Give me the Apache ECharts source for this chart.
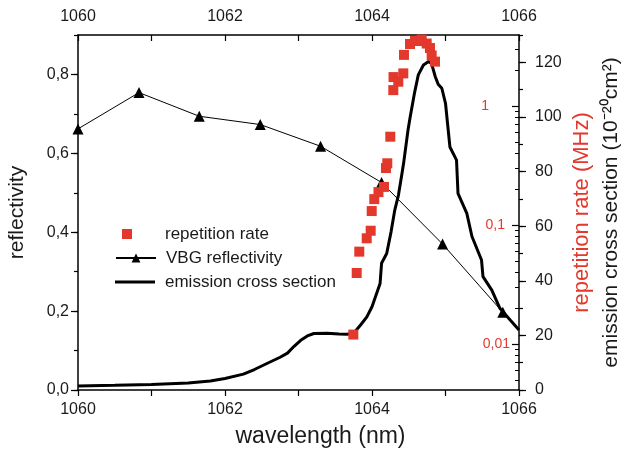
<!DOCTYPE html>
<html><head><meta charset="utf-8">
<script src="https://cdn.jsdelivr.net/npm/echarts@6/dist/echarts.min.js"></script>
<style>html,body{margin:0;padding:0;background:#fff}#c{width:626px;height:454px}</style>
</head><body><div id="c"></div>
<script>
// ---- data ----
const vbgWavelength = [1060, 1060.83, 1061.65, 1062.48, 1063.3, 1064.13, 1064.96, 1065.78];
const vbgReflectivity = [0.662, 0.754, 0.694, 0.673, 0.618, 0.526, 0.370, 0.197];

const repWavelength = [1063.746, 1063.792, 1063.827, 1063.928, 1063.982, 1063.996, 1064.031, 1064.088, 1064.163, 1064.19, 1064.208, 1064.249, 1064.29, 1064.293, 1064.358, 1064.426, 1064.435, 1064.517, 1064.585, 1064.626, 1064.676, 1064.744, 1064.789, 1064.812, 1064.857];
const repRate = [0.012, 0.0395, 0.0597, 0.0773, 0.0895, 0.131, 0.165, 0.189, 0.209, 0.301, 0.330, 0.552, 1.36, 1.75, 1.60, 1.88, 2.69, 3.32, 3.52, 3.52, 3.62, 3.35, 3.07, 2.66, 2.36];

const csWavelength = [1060.0, 1060.5, 1061.0, 1061.5, 1061.8, 1062.0, 1062.25, 1062.4, 1062.57, 1062.75, 1062.85, 1062.94, 1063.03, 1063.12, 1063.21, 1063.39, 1063.55, 1063.66, 1063.75, 1063.85, 1063.93, 1064.0, 1064.11, 1064.13, 1064.2, 1064.26, 1064.31, 1064.36, 1064.4, 1064.43, 1064.49, 1064.52, 1064.58, 1064.63, 1064.7, 1064.77, 1064.81, 1064.86, 1064.9, 1064.95, 1065.0, 1065.06, 1065.15, 1065.17, 1065.29, 1065.36, 1065.49, 1065.51, 1065.63, 1065.74, 1065.88, 1066.0];
const csValue = [1.5, 1.7, 2.0, 2.6, 3.3, 4.2, 5.8, 7.5, 9.7, 12.0, 13.5, 16.0, 18.2, 19.8, 20.7, 20.8, 20.5, 20.4, 20.8, 24.0, 26.8, 30.5, 39.0, 46.4, 50.0, 58.0, 65.9, 71.4, 78.0, 83.0, 95.2, 100.1, 109.0, 115.4, 119.0, 120.3, 119.6, 114.8, 112.0, 110.5, 105.0, 89.0, 84.2, 72.0, 64.7, 56.2, 47.6, 41.5, 36.6, 29.9, 25.6, 22.0];

const logTickValues = [0.01, 0.1, 1];
const logTickLabels = ['0,01', '0,1', '1'];
const logMinorTicks = [0.005, 0.006, 0.007, 0.008, 0.009, 0.02, 0.03, 0.04, 0.05, 0.06, 0.07, 0.08, 0.09, 0.2, 0.3, 0.4, 0.5, 0.6, 0.7, 0.8, 0.9, 2, 3];

// ---- chart ----
const FONT = '"Liberation Sans", Arial, sans-serif';
const TXT = '#1a1a1a';
const RED = '#e3382c';
const TICK_FS = 16;
const LEG_FS = 17;
const axisLineStyle = {color: '#000', width: 1.5};

const chart = echarts.init(document.getElementById('c'), null, {renderer: 'canvas'});

function evenLabel(v) { return Math.round(v) % 2 === 0 ? String(Math.round(v)) : ''; }
function reflLabel(v) {
  const k = v * 5;
  return Math.abs(k - Math.round(k)) < 1e-6 ? v.toFixed(1).replace('.', ',') : '';
}
function logLabel(v) {
  for (let i = 0; i < logTickValues.length; i++) {
    if (Math.abs(Math.log10(v) - Math.log10(logTickValues[i])) < 1e-6) {
      return '{l' + i + '|' + logTickLabels[i] + '}';
    }
  }
  return '';
}
const legText = {fontSize: LEG_FS, color: TXT, fontFamily: FONT, lineHeight: 20};

const option = {
  animation: false,
  backgroundColor: '#fff',
  textStyle: {fontFamily: FONT},
  grid: {left: 78, right: 107, top: 35, bottom: 64, containLabel: false, outerBoundsMode: 'none'},
  legend: [
    {
      left: 122, top: 224, padding: 0, itemWidth: 10, itemHeight: 10, selectedMode: false,
      textStyle: Object.assign({padding: [0, 0, 0, 28]}, legText),
      data: [{name: 'repetition rate', icon: 'rect'}]
    },
    {
      left: 115, top: 248, padding: 0, itemWidth: 40, itemHeight: 11, selectedMode: false,
      textStyle: Object.assign({padding: [0, 0, 0, 5]}, legText),
      data: [{name: 'VBG reflectivity'}]
    },
    {
      left: 115, top: 272, padding: 0, itemWidth: 40, itemHeight: 3, selectedMode: false,
      textStyle: Object.assign({padding: [0, 0, 0, 5]}, legText),
      data: [{name: 'emission cross section', icon: 'rect'}]
    }
  ],
  xAxis: [
    {
      type: 'value', position: 'bottom', min: 1060, max: 1066, interval: 1,
      axisLine: {show: true, onZero: false, lineStyle: axisLineStyle},
      axisTick: {show: true, inside: false, length: 6, lineStyle: {color: '#000', width: 1.2}},
      axisLabel: {formatter: evenLabel, margin: 12, fontSize: TICK_FS, color: TXT, fontFamily: FONT},
      splitLine: {show: false},
      name: 'wavelength (nm)', nameLocation: 'middle', nameGap: 35,
      nameTextStyle: {fontSize: 23, color: TXT, fontFamily: FONT, padding: [0, 0, 0, 44]}
    },
    {
      type: 'value', position: 'top', min: 1060, max: 1066, interval: 1,
      axisLine: {show: true, onZero: false, lineStyle: axisLineStyle},
      axisTick: {show: true, inside: true, length: 6, lineStyle: {color: '#000', width: 1.2}},
      axisLabel: {formatter: evenLabel, margin: 10, fontSize: TICK_FS, color: TXT, fontFamily: FONT},
      splitLine: {show: false}
    }
  ],
  yAxis: [
    {
      type: 'value', position: 'left', min: 0, max: 0.9, interval: 0.2,
      axisLine: {show: true, onZero: false, lineStyle: axisLineStyle},
      axisTick: {show: true, inside: false, length: 7, lineStyle: {color: '#000', width: 1.2}},
      axisLabel: {formatter: reflLabel, margin: 9, fontSize: TICK_FS, color: TXT, fontFamily: FONT, showMaxLabel: false},
      splitLine: {show: false},
      name: 'reflectivity', nameLocation: 'middle', nameGap: 50,
      nameTextStyle: {fontSize: 21, color: TXT, fontFamily: FONT}
    },
    {
      type: 'value', position: 'left', min: 0, max: 0.9, interval: 0.1,
      axisLine: {show: false},
      axisTick: {show: true, inside: false, length: 4, lineStyle: {color: '#000', width: 1.2}},
      axisLabel: {show: false},
      splitLine: {show: false}
    },
    {
      type: 'value', position: 'right', min: 0, max: 130, interval: 20,
      axisLine: {show: true, onZero: false, lineStyle: axisLineStyle},
      axisTick: {show: true, inside: false, length: 7, lineStyle: {color: '#000', width: 1.2}},
      axisLabel: {formatter: v => (v % 20 === 0 ? String(v) : ''), margin: 16, fontSize: TICK_FS, color: TXT, fontFamily: FONT, showMaxLabel: false},
      splitLine: {show: false},
      name: 'emission cross section (10\u207B\u00B2\u2070cm\u00B2)', nameLocation: 'middle', nameGap: 82,
      nameTextStyle: {fontSize: 21, color: TXT, fontFamily: FONT}
    },
    {
      type: 'value', position: 'right', min: 0, max: 130, interval: 10,
      axisLine: {show: false},
      axisTick: {show: true, inside: false, length: 4, lineStyle: {color: '#000', width: 1.2}},
      axisLabel: {show: false},
      splitLine: {show: false}
    },
    {
      type: 'log', logBase: 10, position: 'right', min: 0.004105, max: 3.951,
      axisLine: {show: false},
      axisTick: {show: true, inside: true, length: 7, customValues: logTickValues, lineStyle: {color: '#000', width: 1.2}},
      axisLabel: {
        inside: true, margin: 9, fontSize: 14, color: RED, fontFamily: FONT,
        customValues: logTickValues,
        formatter: logLabel,
        rich: {
          l0: {fontSize: 14, color: RED, fontFamily: FONT, padding: [0, 0, 0, 0]},
          l1: {fontSize: 14, color: RED, fontFamily: FONT, padding: [0, 5, 0, 0]},
          l2: {fontSize: 14, color: RED, fontFamily: FONT, padding: [0, 21, 0, 0]}
        }
      },
      splitLine: {show: false},
      name: 'repetition rate (MHz)', nameLocation: 'middle', nameGap: 52,
      nameTextStyle: {fontSize: 22, color: RED, fontFamily: FONT}
    },
    {
      type: 'log', logBase: 10, position: 'right', min: 0.004105, max: 3.951,
      axisLine: {show: false},
      axisTick: {show: true, inside: true, length: 4, customValues: logMinorTicks, lineStyle: {color: '#000', width: 1}},
      axisLabel: {show: false},
      splitLine: {show: false}
    }
  ],
  series: [
    {
      name: 'emission cross section', type: 'line', xAxisIndex: 0, yAxisIndex: 2,
      showSymbol: false, symbol: 'none',
      lineStyle: {color: '#000', width: 3},
      itemStyle: {color: '#000'},
      z: 2,
      data: csWavelength.map((w, i) => [w, csValue[i]])
    },
    {
      name: 'VBG reflectivity', type: 'line', xAxisIndex: 0, yAxisIndex: 0,
      symbol: 'triangle', symbolSize: 11, showSymbol: true,
      lineStyle: {color: '#000', width: 1},
      itemStyle: {color: '#000'},
      z: 3,
      data: vbgWavelength.map((w, i) => [w, vbgReflectivity[i]])
    },
    {
      name: 'repetition rate', type: 'scatter', xAxisIndex: 0, yAxisIndex: 4,
      symbol: 'rect', symbolSize: 10,
      itemStyle: {color: RED, opacity: 1},
      z: 4,
      data: repWavelength.map((w, i) => [w, repRate[i]])
    }
  ]
};
chart.setOption(option);
</script></body></html>
